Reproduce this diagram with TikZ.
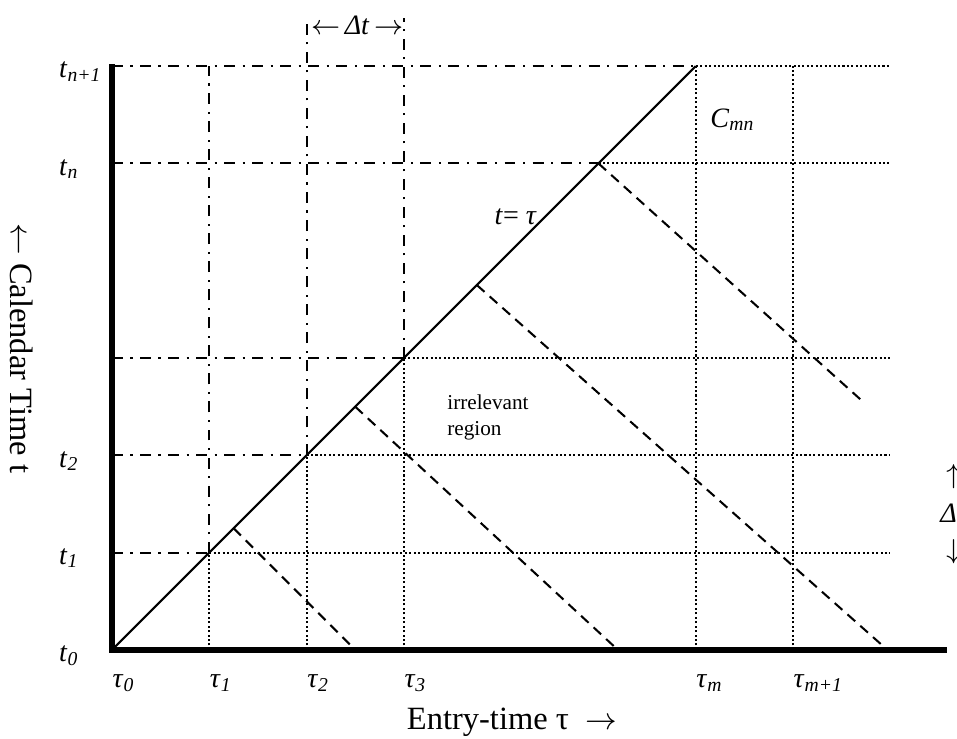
\documentclass[tikz,border=0pt]{standalone}
\usepackage{fontspec}
\setmainfont{Liberation Serif}
\usetikzlibrary{positioning}

\newcommand{\sublbl}[2]{\textit{#1}\textsubscript{\textit{#2}}}

\begin{document}
\begin{tikzpicture}[
			axis/.style    = {line width=2pt},
			diag/.style    = {line width=0.6pt},
			dashdot/.style = {line width=0.6pt, dash pattern=on 3.2pt off 2.2pt on 0.6pt off 2.2pt},
			dots/.style    = {line width=0.6pt, dash pattern=on 0.6pt off 0.7pt},
			cohort/.style  = {line width=0.6pt, dash pattern=on 3pt off 2pt},
			ticklbl/.style = {font=\fontsize{8.2}{9}\selectfont, inner sep=0pt},
			title/.style   = {font=\fontsize{9.5}{11}\selectfont, inner sep=0pt}
			]
			\useasboundingbox (-1.151,-0.915) rectangle (8.685,6.680);

			% horizontal grid lines
			\foreach \y in {1,2,3,5,6} {
					\draw[dashdot] (0,\y) -- (\y,\y);
					\draw[dots] (\y,\y) -- (8,\y);
				}

			% vertical grid lines
			\foreach \x/\top in {1/6, 2/6.5, 3/6.5} {
					\draw[dots] (\x,0) -- (\x,\x);
					\draw[dashdot] (\x,\x) -- (\x,\top);
				}
			\foreach \x in {6,7}
			\draw[dots] (\x,0) -- (\x,6);

			% diagonal t = tau
			\coordinate (o) at (0,0);
			\coordinate (d) at (6,6);
			\draw[diag] (o) -- (d);

			% dashed lines
			\foreach \s/\ex/\ey in {1.25/2.5/0, 2.5/5.2/0, 3.75/7.97/0, 5/7.72/2.55}
			\draw[cohort] (\s,\s) -- (\ex,\ey);

			% axes
			\draw[axis] (0,6.02) -- (0,0) -- (8.58,0);

			% labels on the calendar axis
			\foreach \y/\s in {0/0, 1/1, 2/2, 5/n, 6/n+1}
			\node[ticklbl, anchor=base west] (t\y) at (-0.55,\y-0.12) {\sublbl{t}{\s}};

			% labels on the entry axis
			\foreach \x/\s in {0/0, 1/1, 2/2, 3/3, 6/m, 7/m+1}
			\node[ticklbl, anchor=base west] (tau\x) at (\x,-0.39) {\sublbl{τ}{\s}};

			\node[ticklbl] (dt) at (2.52,6.42) {$\leftarrow$\,\textit{Δt}\,$\rightarrow$};
			\node[ticklbl] (diaglbl) at (4.15,4.45) {\textit{t}= \textit{τ}};
			\node[ticklbl] (cmn) at (6.38,5.45) {\sublbl{C}{mn}};
			\node[font=\fontsize{6.2}{7.4}\selectfont, inner sep=0pt, anchor=west, align=left] (irr) at (3.44,2.39) {irrelevant\\region};

			% right step marker
			\node[ticklbl] (up) at (8.65,1.78) {$\uparrow$};
			\node[ticklbl] (dl) at (8.60,1.40) {\textit{Δ}};
			\node[ticklbl] (dn) at (8.65,1.01) {$\downarrow$};

			% axis titles
			\node[title, rotate=-90] (ytitle) at (-0.925,3.10) {$\leftarrow$ Calendar Time t};
			\node[title] (xtitle) at (4.11,-0.74) {Entry-time τ \ $\rightarrow$};
		\end{tikzpicture}
\end{document}
